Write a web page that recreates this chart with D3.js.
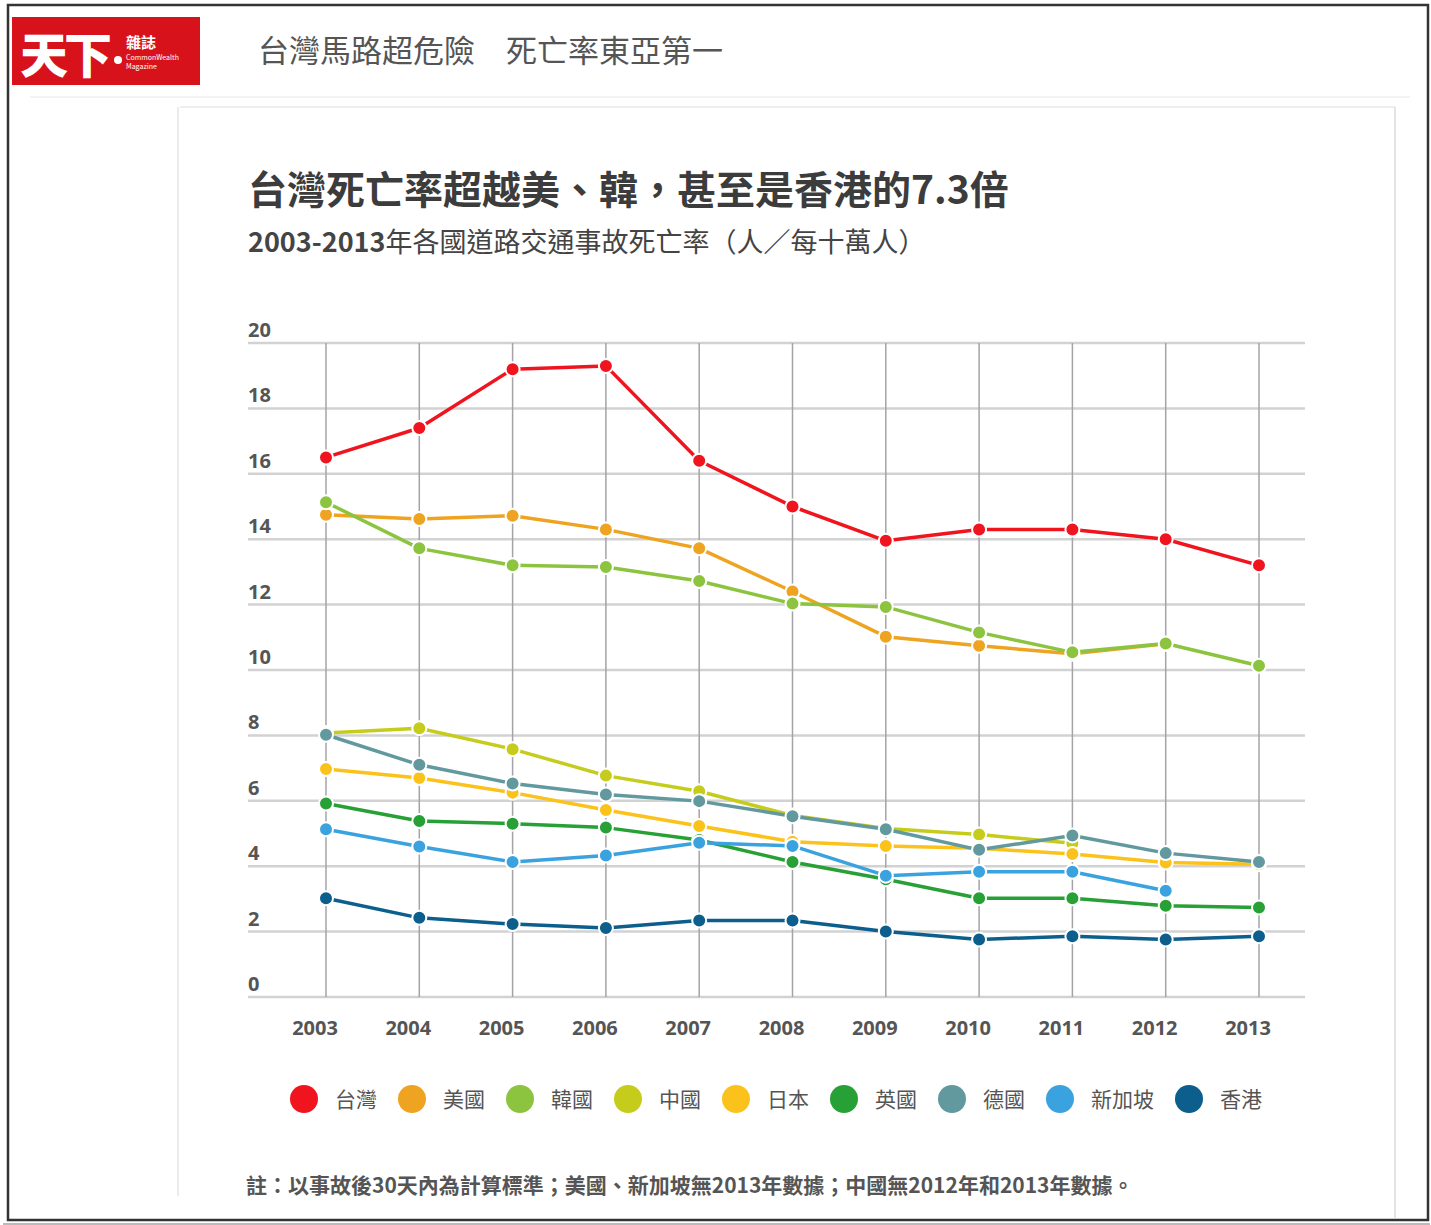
<!DOCTYPE html>
<html>
<head>
<meta charset="utf-8">
<script src="https://cdn.jsdelivr.net/npm/d3@7"></script>
<style>
  body { margin: 0; background: #fff; }
  text { font-family: "Noto Sans CJK TC", "Noto Sans", sans-serif; }
</style>
</head>
<body>
<script>
(function(){

  //chart values
  var years = [2003, 2004, 2005, 2006, 2007, 2008, 2009, 2010, 2011, 2012, 2013];
  var yTicks = [0, 2, 4, 6, 8, 10, 12, 14, 16, 18, 20];
  var names = ["台灣", "美國", "韓國", "中國", "日本", "英國", "德國", "新加坡", "香港"];
  var colors = ["#f0141e", "#eea321", "#8cc43f", "#c6cc1c", "#fcc21c", "#27a035", "#62999f", "#3aa3df", "#0c5e8d"];

  var taiwan    = [16.5, 17.4, 19.2, 19.3, 16.4, 15.0, 13.95, 14.3, 14.3, 14.0, 13.2];
  var usa       = [14.75, 14.62, 14.72, 14.3, 13.72, 12.4, 11.02, 10.74, 10.5, 10.8, null];
  var korea     = [15.13, 13.72, 13.2, 13.15, 12.72, 12.03, 11.93, 11.15, 10.54, 10.81, 10.13];
  var china     = [8.07, 8.22, 7.58, 6.77, 6.29, 5.55, 5.15, 4.97, 4.7, null, null];
  var japan     = [6.97, 6.7, 6.25, 5.72, 5.23, 4.75, 4.62, 4.55, 4.37, 4.11, 4.06];
  var uk        = [5.92, 5.38, 5.3, 5.18, 4.8, 4.13, 3.6, 3.02, 3.02, 2.79, 2.74];
  var germany   = [8.02, 7.1, 6.53, 6.19, 5.99, 5.53, 5.13, 4.5, 4.94, 4.4, 4.13];
  var singapore = [5.13, 4.6, 4.13, 4.33, 4.72, 4.62, 3.71, 3.83, 3.83, 3.25, null];
  var hongkong  = [3.02, 2.42, 2.23, 2.11, 2.34, 2.34, 2.0, 1.76, 1.86, 1.76, 1.86];

  var seriesValues = [taiwan, usa, korea, china, japan, uk, germany, singapore, hongkong];

  var widths = 1431,
      heights = 1225;

  var svg = d3.select("body").append("svg")
      .attr("width", widths)
      .attr("height", heights);

  //page frame
  svg.append("rect")
      .attr("x", 3).attr("y", 1223).attr("width", 1427).attr("height", 2)
      .attr("fill", "#bbb");
  svg.append("rect")
      .attr("x", 8).attr("y", 5).attr("width", 1420).attr("height", 1215)
      .attr("fill", "#fff").attr("stroke", "#333").attr("stroke-width", 2.5);

  //logo
  var logo = svg.append("g");
  logo.append("rect")
      .attr("x", 12).attr("y", 17).attr("width", 188).attr("height", 68)
      .attr("fill", "#d8121b");
  logo.append("text")
      .attr("x", 20).attr("y", 73)
      .attr("fill", "#fff").attr("font-size", 48).attr("font-weight", 900)
      .attr("letter-spacing", -4)
      .text("天下");
  logo.append("circle").attr("cx", 118).attr("cy", 60).attr("r", 4).attr("fill", "#fff");
  logo.append("text")
      .attr("x", 126).attr("y", 48)
      .attr("fill", "#fff").attr("font-size", 15).attr("font-weight", 700)
      .text("雜誌");
  logo.append("text")
      .attr("x", 126).attr("y", 60)
      .attr("fill", "#fff").attr("font-size", 7)
      .text("CommonWealth");
  logo.append("text")
      .attr("x", 126).attr("y", 69)
      .attr("fill", "#fff").attr("font-size", 7)
      .text("Magazine");

  //page header
  svg.append("text")
      .attr("x", 258).attr("y", 62)
      .attr("fill", "#555").attr("font-size", 31)
      .text("台灣馬路超危險　死亡率東亞第一");

  //panel borders
  svg.append("line").attr("x1", 30).attr("x2", 1410).attr("y1", 97).attr("y2", 97)
      .attr("stroke", "#f3f3f3").attr("stroke-width", 2);
  svg.append("line").attr("x1", 180).attr("x2", 1395).attr("y1", 107).attr("y2", 107)
      .attr("stroke", "#eee").attr("stroke-width", 2);
  svg.append("line").attr("x1", 178).attr("x2", 178).attr("y1", 107).attr("y2", 1196)
      .attr("stroke", "#e4e4e4").attr("stroke-width", 1.5);
  svg.append("line").attr("x1", 1395).attr("x2", 1395).attr("y1", 107).attr("y2", 1218)
      .attr("stroke", "#e4e4e4").attr("stroke-width", 2);

  //titles
  svg.append("text")
      .attr("x", 248).attr("y", 204)
      .attr("fill", "#3c3c3c").attr("font-size", 39).attr("font-weight", 700)
      .text("台灣死亡率超越美、韓，甚至是香港的7.3倍");
  var sub = svg.append("text")
      .attr("x", 248).attr("y", 252)
      .attr("fill", "#444").attr("font-size", 27);
  sub.append("tspan").attr("font-weight", 700).text("2003-2013");
  sub.append("tspan").text("年各國道路交通事故死亡率（人／每十萬人）");

  //scales
  var x = d3.scaleLinear()
      .domain([years[0], years[years.length - 1]])
      .range([326, 1259]);
  var y = d3.scaleLinear()
      .domain([0, 20])
      .range([997, 343]);

  var grid = svg.append("g");

  //horizontal gridlines
  grid.selectAll(".hLine")
      .data(yTicks)
      .enter()
      .append("line")
      .attr("class", "hLine")
      .attr("x1", 248).attr("x2", 1305)
      .attr("y1", function(d){ return y(d); })
      .attr("y2", function(d){ return y(d); })
      .attr("stroke", "#d2d2d2").attr("stroke-width", 2.5);

  //vertical gridlines
  grid.selectAll(".vLine")
      .data(years)
      .enter()
      .append("line")
      .attr("class", "vLine")
      .attr("x1", function(d){ return x(d); })
      .attr("x2", function(d){ return x(d); })
      .attr("y1", y(20)).attr("y2", y(0))
      .attr("stroke", "#a4a4a8").attr("stroke-width", 1.5);

  //y labels
  svg.selectAll(".yLabel")
      .data(yTicks)
      .enter()
      .append("text")
      .attr("class", "yLabel")
      .attr("x", 248)
      .attr("y", function(d){ return y(d) - 6; })
      .attr("fill", "#555").attr("font-size", 20).attr("font-weight", 700)
      .style("font-family", "'Open Sans', sans-serif")
      .text(function(d){ return d; });

  //x labels
  svg.selectAll(".xLabel")
      .data(years)
      .enter()
      .append("text")
      .attr("class", "xLabel")
      .attr("x", function(d){ return x(d) - 11; })
      .attr("y", 1035)
      .attr("text-anchor", "middle")
      .attr("fill", "#555").attr("font-size", 20).attr("font-weight", 700)
      .style("font-family", "'Open Sans', sans-serif")
      .text(function(d){ return d; });

  //lines
  var line = d3.line()
      .defined(function(d){ return d != null; })
      .x(function(d, i){ return x(years[i]); })
      .y(function(d){ return y(d); });

  var series = svg.selectAll(".series")
      .data(seriesValues)
      .enter()
      .append("g")
      .attr("class", "series");

  series.append("path")
      .attr("d", line)
      .attr("fill", "none")
      .attr("stroke", function(d, i){ return colors[i]; })
      .attr("stroke-width", 3.5)
      .attr("stroke-linejoin", "round");

  series.each(function(vals, i){
      d3.select(this).selectAll("circle")
        .data(vals.map(function(v, j){ return {v: v, yr: years[j]}; })
                  .filter(function(p){ return p.v != null; }))
        .enter()
        .append("circle")
        .attr("cx", function(p){ return x(p.yr); })
        .attr("cy", function(p){ return y(p.v); })
        .attr("r", 7)
        .attr("fill", colors[i])
        .attr("stroke", "#fff")
        .attr("stroke-width", 2);
  });

  //legend
  var legend = svg.append("g");
  var lx = 304;
  names.forEach(function(n, i){
      legend.append("circle")
          .attr("cx", lx).attr("cy", 1099).attr("r", 14)
          .attr("fill", colors[i]);
      var t = legend.append("text")
          .attr("x", lx + 31).attr("y", 1107)
          .attr("fill", "#555").attr("font-size", 21)
          .text(n);
      lx = lx + 31 + t.node().getComputedTextLength() + 35;
  });

  //footnote
  svg.append("text")
      .attr("x", 246).attr("y", 1193)
      .attr("fill", "#555").attr("font-size", 21).attr("font-weight", 700)
      .text("註：以事故後30天內為計算標準；美國、新加坡無2013年數據；中國無2012年和2013年數據。");

})();
</script>
</body>
</html>
